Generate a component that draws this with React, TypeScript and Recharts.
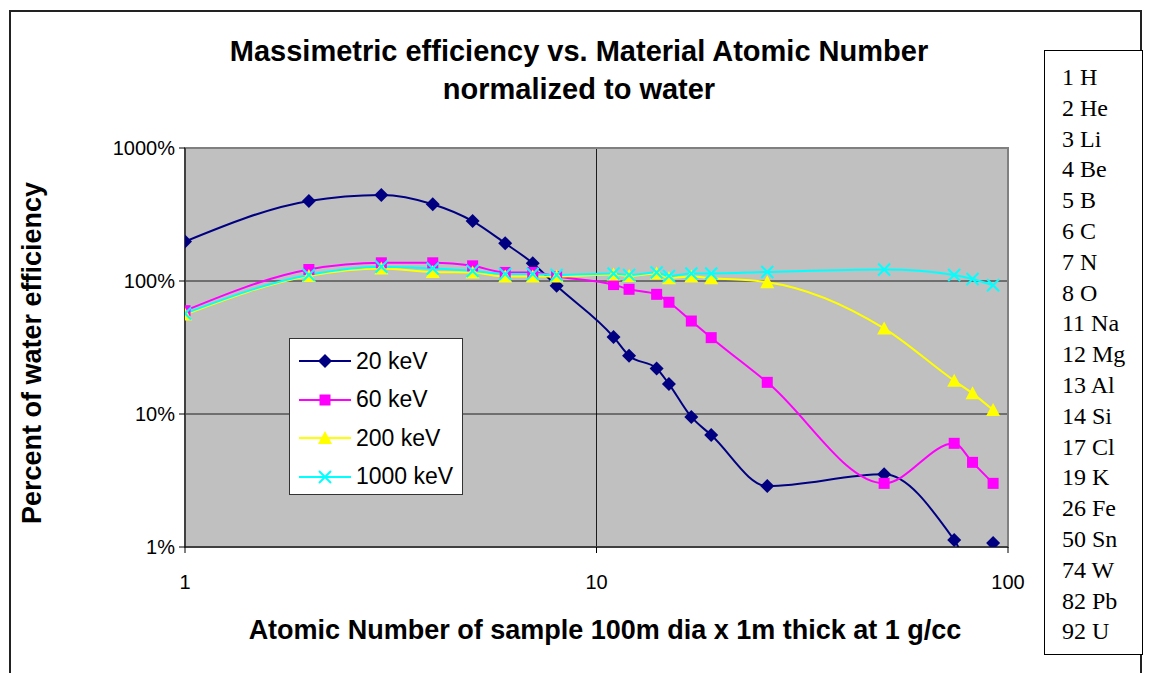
import React from 'react';
import {
  LineChart,
  Line,
  XAxis,
  YAxis,
  CartesianGrid,
  ReferenceArea,
  Legend,
} from 'recharts';

// atomic numbers as they sit on the x axis of the picture
const atomicNumbers = [1, 2, 3, 4, 5, 6, 7, 8, 11, 12, 14, 15, 17, 19, 26, 50, 74, 82, 92];

// percent of water efficiency
const kev20 = [198, 400, 444, 378, 282, 192, 136, 92, 38, 27.4, 22, 16.8, 9.5, 6.95, 2.87, 3.52, 1.13, 0.7, 1.07];
const kev60 = [59.8, 122, 137, 137, 130, 116, 116, 108, 94, 86.6, 79.4, 69.2, 50, 37.5, 17.3, 3.01, 6.02, 4.33, 3.01];
const kev200 = [56, 109, 124, 117, 116, 108, 108, 108, 112, 109, 114, 105, 108, 105, 98, 44, 17.8, 14.3, 10.7];
const kev1000 = [57, 111, 128, 124, 119, 113, 113, 111, 114, 111, 116, 109, 114, 114, 117, 122, 111, 103.5, 93];

const seriesNames = ['20 keV', '60 keV', '200 keV', '1000 keV'];
const xTicks = [1, 10, 100];
const yTicks = [1, 10, 100, 1000];

const elements = [
  '1 H', '2 He', '3 Li', '4 Be', '5 B', '6 C', '7 N', '8 O', '11 Na', '12 Mg',
  '13 Al', '14 Si', '17 Cl', '19 K', '26 Fe', '50 Sn', '74 W', '82 Pb', '92 U',
];

const data = atomicNumbers.map((z, i) => ({
  z,
  k20: kev20[i],
  k60: kev60[i],
  k200: kev200[i],
  k1000: kev1000[i],
}));

const NAVY = '#000080';
const MAGENTA = '#FF00FF';
const YELLOW = '#FFFF00';
const CYAN = '#00FFFF';
const SANS = '"Liberation Sans", Arial, sans-serif';

type Shape = 'diamond' | 'square' | 'triangle' | 'x';

const markerPath = (shape: Shape, cx: number, cy: number, color: string, key?: string) => {
  if (shape === 'diamond') {
    return <path key={key} d={`M${cx},${cy - 7}L${cx + 7},${cy}L${cx},${cy + 7}L${cx - 7},${cy}Z`} fill={color} />;
  }
  if (shape === 'square') {
    return <rect key={key} x={cx - 5.5} y={cy - 5.5} width={11} height={11} fill={color} />;
  }
  if (shape === 'triangle') {
    return <path key={key} d={`M${cx},${cy - 7}L${cx + 7},${cy + 6}L${cx - 7},${cy + 6}Z`} fill={color} />;
  }
  return (
    <path
      key={key}
      d={`M${cx - 6},${cy - 6}L${cx + 6},${cy + 6}M${cx - 6},${cy + 6}L${cx + 6},${cy - 6}`}
      stroke={color}
      strokeWidth={2}
      fill="none"
    />
  );
};

const makeDot = (shape: Shape, color: string) => (props: any) => {
  const { cx, cy, index } = props;
  if (cx == null || cy == null) return <g key={`${shape}${index}`} />;
  return markerPath(shape, cx, cy, color, `${shape}${index}`);
};

const legendItems: { name: string; color: string; shape: Shape }[] = [
  { name: seriesNames[0], color: NAVY, shape: 'diamond' },
  { name: seriesNames[1], color: MAGENTA, shape: 'square' },
  { name: seriesNames[2], color: YELLOW, shape: 'triangle' },
  { name: seriesNames[3], color: CYAN, shape: 'x' },
];

const renderLegend = () => (
  <div
    style={{
      width: 174,
      height: 157,
      background: '#fff',
      border: '1px solid #333',
      boxSizing: 'border-box',
      paddingTop: 3,
    }}
  >
    {legendItems.map((item) => (
      <div key={item.name} style={{ display: 'flex', alignItems: 'center', height: 38.5 }}>
        <svg width={66} height={20} style={{ flexShrink: 0 }}>
          <line x1={9} y1={10} x2={61} y2={10} stroke={item.color} strokeWidth={2} />
          {markerPath(item.shape, 35, 10, item.color)}
        </svg>
        <span style={{ fontFamily: SANS, fontSize: 23, color: '#000' }}>{item.name}</span>
      </div>
    ))}
  </div>
);

const App: React.FC = () => {
  return (
    <div
      style={{
        position: 'absolute',
        left: 0,
        top: 0,
        width: 1150,
        height: 673,
        overflow: 'hidden',
        background: '#fff',
      }}
    >
      {/* chart frame */}
      <div
        style={{
          position: 'absolute',
          left: 9,
          top: 10,
          width: 1133,
          height: 720,
          border: '2px solid #222',
          boxSizing: 'border-box',
        }}
      />

      <div
        style={{
          position: 'absolute',
          left: 0,
          top: 32,
          width: 1158,
          textAlign: 'center',
          fontFamily: SANS,
          fontWeight: 'bold',
          fontSize: 29,
          lineHeight: '38px',
        }}
      >
        Massimetric efficiency vs. Material Atomic Number
        <br />
        normalized to water
      </div>

      <div style={{ position: 'absolute', left: 0, top: 0 }}>
        <LineChart
          width={1150}
          height={673}
          data={data}
          margin={{ top: 148, right: 142, bottom: 86, left: 90 }}
        >
          <CartesianGrid fill="#C0C0C0" stroke="#000" strokeOpacity={0.85} />
          <ReferenceArea
            x1={1}
            x2={100}
            y1={1}
            y2={1000}
            fill="none"
            stroke="#808080"
            strokeWidth={2}
            fillOpacity={0}
          />
          <XAxis
            dataKey="z"
            type="number"
            scale="log"
            domain={[1, 100]}
            ticks={xTicks}
            allowDataOverflow
            height={40}
            tickSize={6}
            tickMargin={22}
            stroke="#000"
            tick={{ fill: '#000', fontSize: 20, fontFamily: SANS }}
          />
          <YAxis
            type="number"
            scale="log"
            domain={[1, 1000]}
            ticks={yTicks}
            allowDataOverflow
            width={95}
            tickSize={6}
            tickMargin={4}
            stroke="#000"
            tickFormatter={(v: number) => `${v}%`}
            tick={{ fill: '#000', fontSize: 20, fontFamily: SANS }}
          />
          <Line
            type="monotone"
            dataKey="k20"
            name={seriesNames[0]}
            stroke={NAVY}
            strokeWidth={2}
            dot={makeDot('diamond', NAVY)}
            activeDot={false}
            isAnimationActive={false}
          />
          <Line
            type="monotone"
            dataKey="k60"
            name={seriesNames[1]}
            stroke={MAGENTA}
            strokeWidth={2}
            dot={makeDot('square', MAGENTA)}
            activeDot={false}
            isAnimationActive={false}
          />
          <Line
            type="monotone"
            dataKey="k200"
            name={seriesNames[2]}
            stroke={YELLOW}
            strokeWidth={2}
            dot={makeDot('triangle', YELLOW)}
            activeDot={false}
            isAnimationActive={false}
          />
          <Line
            type="monotone"
            dataKey="k1000"
            name={seriesNames[3]}
            stroke={CYAN}
            strokeWidth={2}
            dot={makeDot('x', CYAN)}
            activeDot={false}
            isAnimationActive={false}
          />
          <Legend
            layout="vertical"
            align="center"
            verticalAlign="middle"
            content={renderLegend}
            wrapperStyle={{ left: 289, top: 338, width: 174, height: 157 }}
          />
        </LineChart>
      </div>

      {/* axis titles */}
      <div
        style={{
          position: 'absolute',
          left: 32,
          top: 353,
          transform: 'translate(-50%, -50%) rotate(-90deg)',
          whiteSpace: 'nowrap',
          fontFamily: SANS,
          fontWeight: 'bold',
          fontSize: 27,
        }}
      >
        Percent of water efficiency
      </div>
      <div
        style={{
          position: 'absolute',
          left: 605,
          top: 630,
          transform: 'translate(-50%, -50%)',
          whiteSpace: 'nowrap',
          fontFamily: SANS,
          fontWeight: 'bold',
          fontSize: 27,
        }}
      >
        Atomic Number of sample 100m dia x 1m thick at 1 g/cc
      </div>

      {/* element table on the right */}
      <div
        style={{
          position: 'absolute',
          left: 1044,
          top: 50,
          width: 99,
          height: 605,
          border: '1.5px solid #000',
          boxSizing: 'border-box',
          background: '#fff',
          paddingTop: 11,
          paddingLeft: 17,
          fontFamily: '"Liberation Serif", "Times New Roman", serif',
          fontSize: 24,
          lineHeight: '30.8px',
          whiteSpace: 'nowrap',
        }}
      >
        {elements.map((e) => (
          <div key={e}>{e}</div>
        ))}
      </div>
    </div>
  );
};

export default App;
